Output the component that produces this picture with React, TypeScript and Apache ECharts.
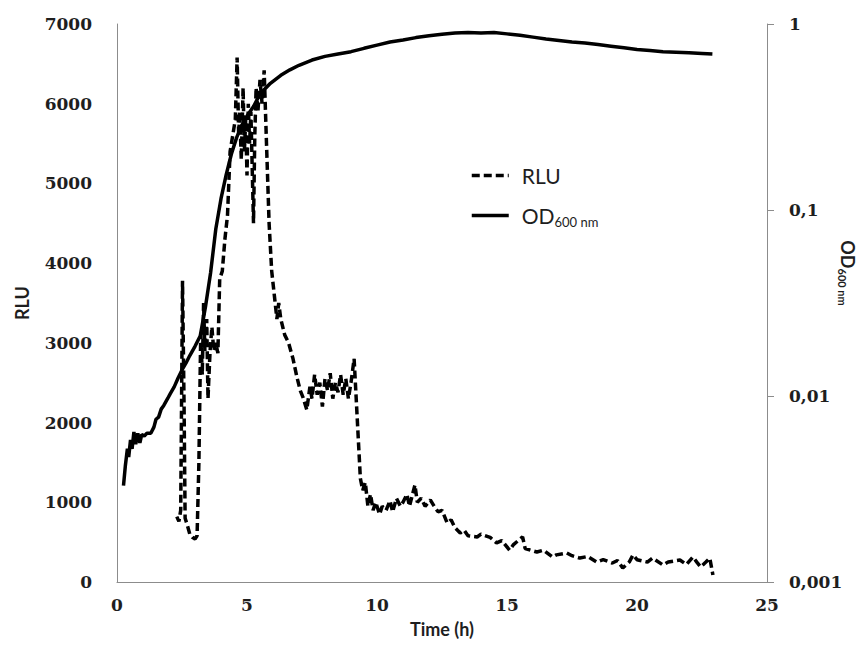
import { useEffect, useRef } from "react";
import * as echarts from "echarts";

const X_TICKS = [0, 5, 10, 15, 20, 25];
const RLU_TICKS = [0, 1000, 2000, 3000, 4000, 5000, 6000, 7000];
const OD_TICK_LABELS = ["0,001", "0,01", "0,1", "1"];

const RLU_T = [
  2.3, 2.38, 2.45, 2.52, 2.58, 2.62, 2.7, 2.8, 2.9, 3.0, 3.08, 3.15, 3.22, 3.28, 3.33, 3.38, 3.45, 3.5, 3.58, 3.65,
  3.72, 3.8, 3.88, 3.95, 4.05, 4.15, 4.25, 4.35, 4.45, 4.55, 4.62, 4.68, 4.72, 4.78, 4.85, 4.9, 4.95, 5.0, 5.05, 5.1,
  5.15, 5.2, 5.25, 5.3, 5.35, 5.42, 5.5, 5.58, 5.66, 5.75, 5.85, 5.95, 6.05, 6.15, 6.22, 6.3, 6.45, 6.6, 6.77, 6.92,
  7.05, 7.15, 7.3, 7.42, 7.5, 7.6, 7.7, 7.8, 7.9, 8.0, 8.1, 8.2, 8.3, 8.4, 8.5, 8.6, 8.7, 8.8, 8.9, 9.0,
  9.12, 9.2, 9.28, 9.36, 9.45, 9.55, 9.65, 9.75, 9.85, 9.95, 10.1, 10.2, 10.35, 10.5, 10.6, 10.75, 10.9, 11.0, 11.15, 11.25,
  11.46, 11.55, 11.7, 11.85, 12.05, 12.2, 12.35, 12.5, 12.7, 12.85, 13.0, 13.2, 13.35, 13.5, 13.85, 14.0, 14.35, 14.6, 14.8, 15.1,
  15.25, 15.6, 15.7, 16.15, 16.4, 16.75, 16.9, 17.3, 17.5, 17.8, 18.1, 18.45, 18.7, 19.05, 19.25, 19.45, 19.7, 19.85, 20.0, 20.4,
  20.6, 21.0, 21.2, 21.65, 21.9, 22.15, 22.3, 22.45, 22.65, 22.8, 22.92,
];
const RLU_V = [
  820, 760, 900, 3780, 2200, 800, 720, 600, 560, 540, 580, 1500, 3100, 2600, 3500, 2900, 3300, 2300, 2900, 3200,
  2900, 3000, 2870, 3800, 3900, 4300, 4600, 5400, 5600, 5800, 6580, 5600, 5900, 5300, 6200, 5400, 5800, 5100, 6000, 5500,
  5900, 5200, 4500, 5600, 6200, 5900, 6300, 6000, 6420, 5500, 4500, 3900, 3600, 3300, 3500, 3300, 3100, 3000, 2800, 2570,
  2400, 2320, 2160, 2450, 2300, 2600, 2350, 2500, 2200, 2550, 2400, 2620, 2300, 2500, 2380, 2600, 2350, 2550, 2300, 2500,
  2800, 2300, 1800, 1300, 1150, 1250, 950, 1100, 900, 1000, 850, 950, 900, 1020, 880, 1050, 950, 1000, 1100, 950,
  1217, 1000, 1050, 950, 1030, 950, 880, 900, 740, 780, 680, 615, 650, 580, 565, 600, 560, 490, 520, 400,
  470, 565, 420, 376, 400, 314, 340, 364, 330, 300, 320, 250, 280, 238, 270, 175, 250, 340, 280, 250,
  300, 213, 250, 276, 220, 314, 250, 188, 250, 300, 88,
];

const OD_T = [
  0.25, 0.32, 0.4, 0.45, 0.52, 0.58, 0.65, 0.72, 0.8, 0.88, 0.95, 1.05, 1.15, 1.3, 1.42, 1.5, 1.6, 1.7, 1.8, 1.95,
  2.05, 2.2, 2.35, 2.5, 2.65, 2.8, 3.0, 3.2, 3.4, 3.6, 3.8, 4.0, 4.2, 4.4, 4.6, 4.8, 5.0, 5.25, 5.5, 5.9,
  6.3, 6.65, 7.0, 7.5, 8.0, 8.5, 9.0, 9.5, 10.0, 10.5, 11.0, 11.5, 12.0, 12.5, 13.0, 13.5, 14.0, 14.5, 15.0, 15.5,
  16.0, 16.5, 17.0, 17.5, 18.0, 18.5, 19.0, 19.5, 20.0, 20.5, 21.0, 21.5, 22.0, 22.5, 22.9,
];
const OD_V = [
  0.0033, 0.0042, 0.0052, 0.0047, 0.0058, 0.0052, 0.0064, 0.0055, 0.0063, 0.0056, 0.0062, 0.0061, 0.0063, 0.0063, 0.0068, 0.0075, 0.0077, 0.0085, 0.0089, 0.0097,
  0.0103, 0.0112, 0.0125, 0.0138, 0.015, 0.0165, 0.0185, 0.021, 0.03, 0.046, 0.079, 0.115, 0.155, 0.2, 0.245, 0.285, 0.32, 0.36, 0.42, 0.48,
  0.53, 0.567, 0.6, 0.64, 0.67, 0.69, 0.71, 0.74, 0.77, 0.8, 0.82, 0.845, 0.865, 0.88, 0.895, 0.9, 0.895, 0.9, 0.885, 0.87,
  0.85, 0.83, 0.815, 0.8, 0.79, 0.775, 0.76, 0.745, 0.73, 0.72, 0.71, 0.705, 0.7, 0.695, 0.69,
];

const AXIS_GRAY = "#8c8c8c";
const TEXT = "#1e1e1e";
const TICK_FONT = "DejaVu Serif";
const NAME_FONT = "Lato";

export default function App() {
  const ref = useRef<HTMLDivElement>(null);
  useEffect(() => {
    if (!ref.current) return;
    const chart = echarts.init(ref.current, null, { renderer: "svg", width: 864, height: 666 });
    const tickLabel = {
      fontFamily: TICK_FONT,
      fontWeight: "bold" as const,
      fontSize: 17,
      color: TEXT,
    };
    const nameStyle = {
      fontFamily: NAME_FONT,
      fontWeight: "bold" as const,
      fontSize: 18,
      color: TEXT,
    };
    chart.setOption({
      animation: false,
      backgroundColor: "#ffffff",
      grid: { left: 117, right: 97, top: 24, bottom: 84, containLabel: false, outerBoundsMode: "none" },
      legend: {
        orient: "vertical",
        left: 470,
        top: 165,
        padding: 0,
        itemWidth: 37,
        itemHeight: 14,
        itemGap: 19,
        data: ["RLU", "OD"],
        itemStyle: { opacity: 0 },
        lineStyle: { width: 3.5 },
        formatter: (name: string) => (name === "OD" ? "{a|OD}{b|600 nm}" : "{a|RLU}"),
        textStyle: {
          padding: [0, 0, 0, 8],
          rich: {
            a: { fontFamily: NAME_FONT, fontSize: 21, color: TEXT, lineHeight: 26 },
            b: { fontFamily: NAME_FONT, fontSize: 13, color: TEXT, lineHeight: 26, verticalAlign: "bottom" },
          },
        },
      },
      xAxis: {
        type: "value",
        min: X_TICKS[0],
        max: X_TICKS[X_TICKS.length - 1],
        interval: 5,
        axisLine: { show: true, lineStyle: { color: AXIS_GRAY, width: 1 } },
        axisTick: { show: false },
        splitLine: { show: false },
        axisLabel: { ...tickLabel, margin: 14 },
        name: "Time (h)",
        nameLocation: "middle",
        nameGap: 38,
        nameMoveOverlap: false,
        nameTextStyle: nameStyle,
      },
      yAxis: [
        {
          type: "value",
          min: RLU_TICKS[0],
          max: RLU_TICKS[RLU_TICKS.length - 1],
          interval: 1000,
          axisLine: { show: true, lineStyle: { color: AXIS_GRAY, width: 1 } },
          axisTick: { show: false },
          splitLine: { show: false },
          axisLabel: { ...tickLabel, margin: 25, formatter: (v: number) => String(v) },
          name: "RLU",
          nameLocation: "middle",
          nameGap: 86,
          nameRotate: 90,
          nameMoveOverlap: false,
          nameTextStyle: nameStyle,
        },
        {
          type: "log",
          logBase: 10,
          min: 0.001,
          max: 1,
          position: "right",
          axisLine: { show: true, lineStyle: { color: AXIS_GRAY, width: 1 } },
          axisTick: { show: true, length: 7, lineStyle: { color: AXIS_GRAY } },
          minorTick: { show: false },
          splitLine: { show: false },
          axisLabel: {
            ...tickLabel,
            margin: 22,
            formatter: (v: number) => OD_TICK_LABELS[Math.round(Math.log10(v)) + 3] ?? "",
          },
          name: "{a|OD}{b|600 nm}",
          nameLocation: "middle",
          nameGap: 70,
          nameRotate: -90,
          nameMoveOverlap: false,
          nameTextStyle: {
            padding: [0, 60, 0, 0],
            rich: {
              a: { fontFamily: NAME_FONT, fontWeight: "bold", fontSize: 18, color: TEXT, lineHeight: 22 },
              b: { fontFamily: NAME_FONT, fontWeight: "bold", fontSize: 11, color: TEXT, lineHeight: 22, verticalAlign: "bottom" },
            },
          },
        },
      ],
      series: [
        {
          name: "RLU",
          type: "line",
          yAxisIndex: 0,
          showSymbol: false,
          symbol: "none",
          data: RLU_T.map((t, i) => [t, RLU_V[i]]),
          lineStyle: { color: "#000", width: 3.5, type: [8, 4] },
          itemStyle: { color: "#000" },
          z: 2,
        },
        {
          name: "OD",
          type: "line",
          yAxisIndex: 1,
          showSymbol: false,
          symbol: "none",
          data: OD_T.map((t, i) => [t, OD_V[i]]),
          lineStyle: { color: "#000", width: 3.5, type: "solid" },
          itemStyle: { color: "#000" },
          z: 3,
        },
      ],
    });
    return () => chart.dispose();
  }, []);
  return (
    <div
      ref={ref}
      style={{ position: "fixed", left: 0, top: 0, width: 864, height: 666, overflow: "hidden" }}
    />
  );
}
